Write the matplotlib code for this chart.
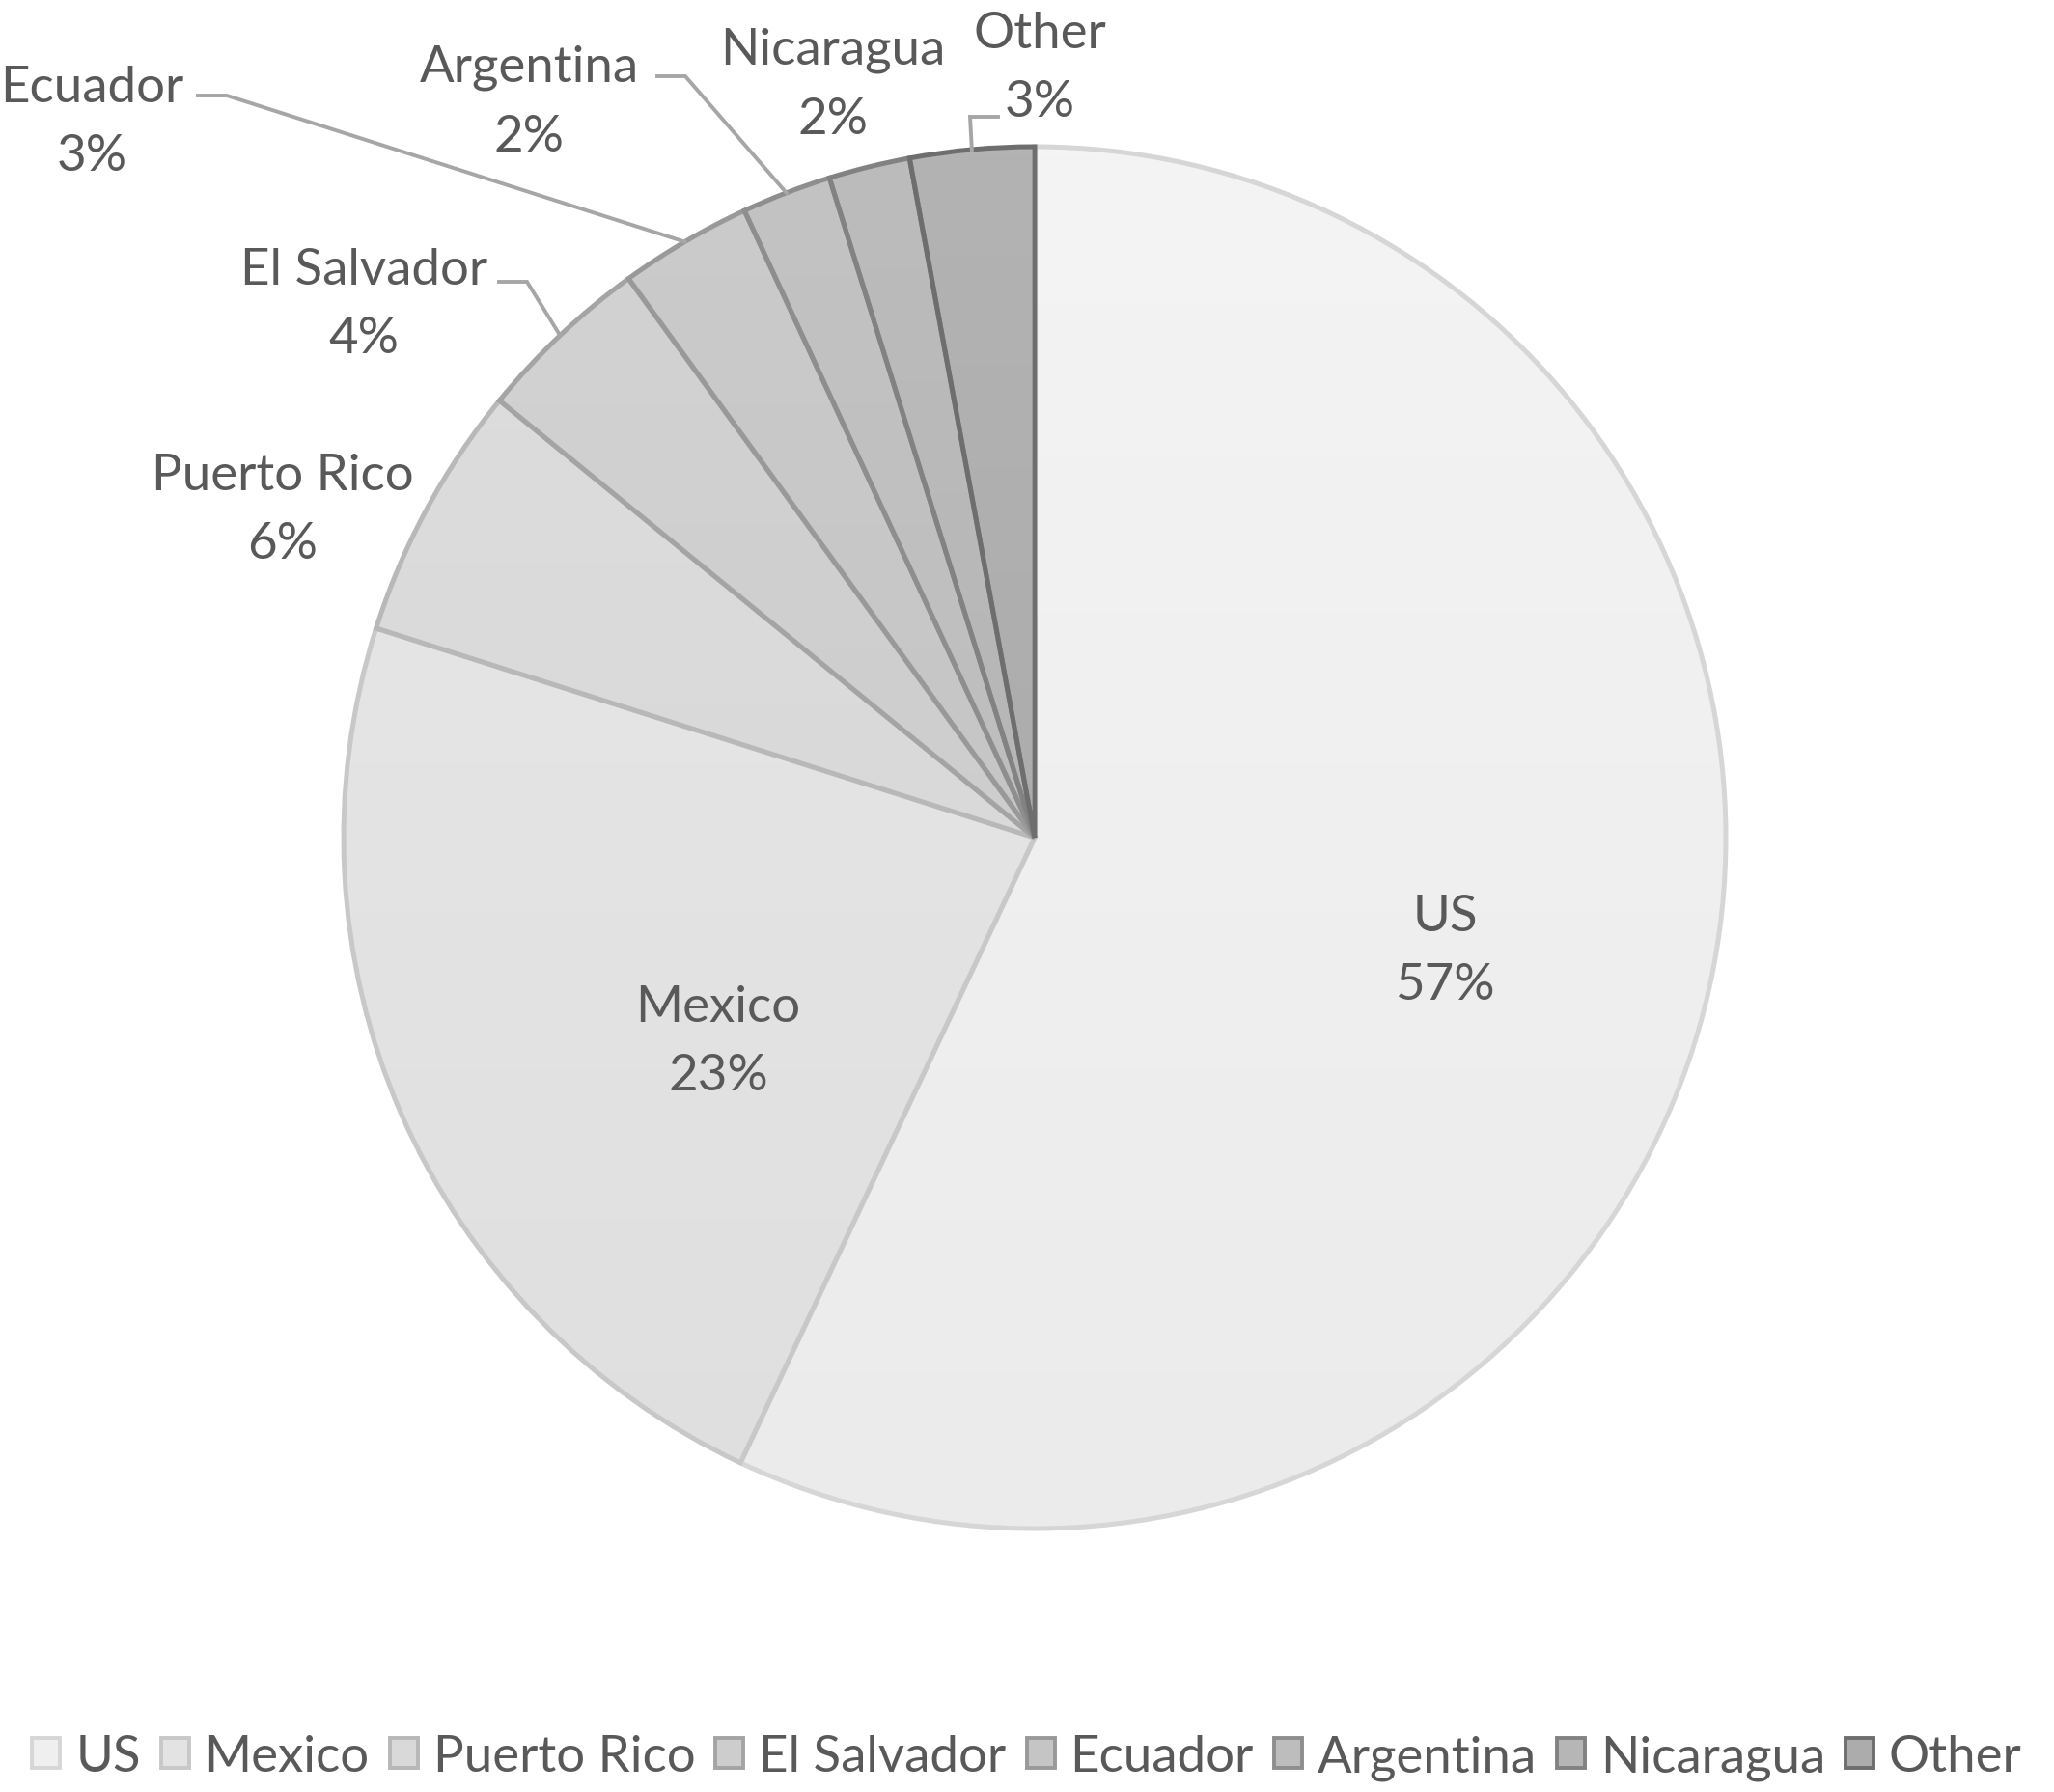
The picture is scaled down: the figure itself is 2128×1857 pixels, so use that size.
import numpy as np
import matplotlib
matplotlib.use("Agg")
import matplotlib.pyplot as plt
from matplotlib.patches import Patch
from matplotlib.colors import LinearSegmentedColormap

# ---- data ----
categories = ["US", "Mexico", "Puerto Rico", "El Salvador", "Ecuador", "Argentina", "Nicaragua", "Other"]
shares = [57.0, 22.9, 6.0, 4.1, 3.1, 2.1, 1.9, 2.9]
pct_labels = ["57%", "23%", "6%", "4%", "3%", "2%", "2%", "3%"]

# ---- style ----
fill_top = ["#f4f4f4", "#e8e8e8", "#dedede", "#d3d3d3", "#cbcbcb", "#c3c3c3", "#bcbcbc", "#b3b3b3"]
fill_bot = ["#ebebeb", "#dfdfdf", "#d4d4d4", "#c8c8c8", "#c0c0c0", "#b8b8b8", "#b0b0b0", "#a6a6a6"]
fill_mid = ["#efefef", "#e3e3e3", "#d9d9d9", "#cdcdcd", "#c5c5c5", "#bdbdbd", "#b6b6b6", "#acacac"]
edges = ["#d6d6d6", "#c8c8c8", "#b8b8b8", "#a4a4a4", "#999999", "#8e8e8e", "#828282", "#6e6e6e"]
TXT = "#595959"
FONT = ["Lato", "DejaVu Sans"]
FS = 38

W, H = 2128, 1858
fig = plt.figure(figsize=(W / 100, H / 100), dpi=100)
ax = fig.add_axes([0, 0, 1, 1])

cx, cy, R = 1072, H - 869, 716
wedges, _ = ax.pie(shares, colors=fill_mid, startangle=90, counterclock=False,
                   center=(cx, cy), radius=R,
                   wedgeprops=dict(linewidth=3.6, joinstyle="miter"))
grad = np.linspace(0, 1, 256).reshape(-1, 1)
for i, w in enumerate(wedges):
    w.set_edgecolor(edges[i])
    w.set_facecolor("none")
    w.set_zorder(3 + i * 0.01)
    cmap = LinearSegmentedColormap.from_list(f"g{i}", [fill_top[i], fill_bot[i]])
    im = ax.imshow(grad, cmap=cmap, extent=(cx - R, cx + R, cy - R, cy + R),
                   origin="upper", aspect="auto", zorder=2, interpolation="bilinear")
    im.set_clip_path(w)

ax.set_xlim(0, W)
ax.set_ylim(0, H)
ax.set_aspect("equal")
ax.axis("off")

# label positions (pixel coords from top)
label_pos = {
    "US": (1497, 986), "Mexico": (744, 1080), "Puerto Rico": (293, 529),
    "El Salvador": (377, 316), "Ecuador": (95, 127), "Argentina": (548, 106),
    "Nicaragua": (863, 88), "Other": (1077, 71),
}
for name, pct in zip(categories, pct_labels):
    x, y = label_pos[name]
    ax.text(x, H - y, f"{name}\n{pct}", ha="center", va="center", fontsize=FS,
            color=TXT, family=FONT, linespacing=1.65, zorder=6)

# leader lines: (start x, y, elbow x) -> arc midpoint of wedge
leaders = {"El Salvador": (517, 293, 546), "Ecuador": (205, 100, 235),
           "Argentina": (681, 80, 710), "Other": (1034, 122, 1005)}
for name, (sx, sy, ex) in leaders.items():
    w = wedges[categories.index(name)]
    mid = np.deg2rad((w.theta1 + w.theta2) / 2)
    px, py = cx + R * np.cos(mid), cy + R * np.sin(mid)
    ax.plot([sx, ex, px], [H - sy, H - sy, py], color="#a6a6a6", lw=2.8,
            solid_joinstyle="miter", zorder=5)

handles = [Patch(facecolor=fill_mid[i], edgecolor=edges[i], linewidth=2.8) for i in range(len(categories))]
leg = fig.legend(handles, categories, loc="center", bbox_to_anchor=(0.5, 1 - 1822 / H),
                 ncol=8, frameon=False, handlelength=0.55, handleheight=0.55,
                 handletextpad=0.3, columnspacing=0.4,
                 prop=dict(family=FONT, size=FS))
for t in leg.get_texts():
    t.set_color(TXT)

fig.savefig("out.png", dpi=100, facecolor="white")
